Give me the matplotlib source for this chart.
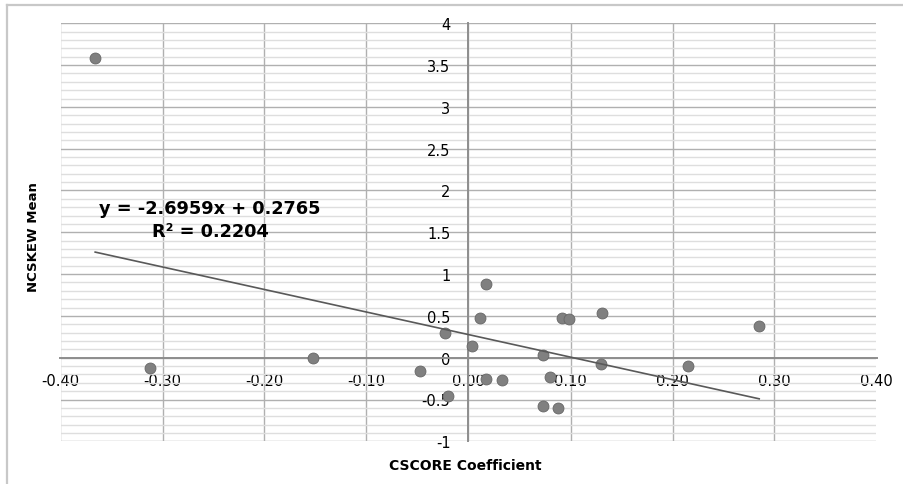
import matplotlib
matplotlib.use("Agg")
import matplotlib.pyplot as plt
from matplotlib.ticker import MultipleLocator
from matplotlib.lines import Line2D
import numpy as np

plt.rcParams['font.family'] = ['DejaVu Sans']
plt.rcParams['axes.unicode_minus'] = False

# ---- data ----
cscore = [-0.366, -0.312, -0.152, -0.048, -0.023, -0.020, 0.003, 0.011, 0.017,
          0.017, 0.033, 0.073, 0.073, 0.080, 0.088, 0.092, 0.099, 0.130, 0.131,
          0.215, 0.285]
ncskew = [3.59, -0.12, 0.00, -0.16, 0.29, -0.46, 0.14, 0.48, 0.88,
          -0.25, -0.27, 0.03, -0.58, -0.23, -0.60, 0.47, 0.46, -0.08, 0.53,
          -0.10, 0.38]
trend_slope = -2.6959
trend_intercept = 0.2765
r_squared = 0.2204

xticks = [-0.4, -0.3, -0.2, -0.1, 0.0, 0.1, 0.2, 0.3, 0.4]
xtick_labels = ["-0.40", "-0.30", "-0.20", "-0.10", "0.00", "0.10", "0.20", "0.30", "0.40"]
yticks = [-1, -0.5, 0, 0.5, 1, 1.5, 2, 2.5, 3, 3.5, 4]
ytick_labels = ["-1", "-0.5", "0", "0.5", "1", "1.5", "2", "2.5", "3", "3.5", "4"]
x_title = "CSCORE Coefficient"
y_title = "NCSKEW Mean"

# ---- figure ----
fig = plt.figure(figsize=(9.04, 4.85), dpi=100)
ax = fig.add_axes([60.5 / 904, 1 - 442.3 / 485, 816 / 904, 418 / 485])
ax.set_xlim(-0.4, 0.4)
ax.set_ylim(-1, 4)

ax.set_xticks(xticks)
ax.set_xticklabels(xtick_labels)
ax.set_yticks(yticks)
ax.set_yticklabels(ytick_labels)
ax.yaxis.set_minor_locator(MultipleLocator(0.1))
ax.tick_params(which='both', length=0, labelsize=10.5, colors='#000000')
ax.tick_params(axis='x', pad=11)
ax.tick_params(axis='y', pad=13)

ax.set_axisbelow(True)
ax.grid(which='major', color='#b0b0b0', lw=1.0)
ax.grid(which='minor', axis='y', color='#dedede', lw=1.0)
for gl in ax.get_xgridlines() + ax.get_ygridlines():
    gl.set_clip_on(False)

for side in ['top', 'right']:
    ax.spines[side].set_visible(False)
ax.spines['left'].set_position(('data', 0))
ax.spines['bottom'].set_position(('data', 0))
for side in ['left', 'bottom']:
    ax.spines[side].set_color('#8e8e8e')
    ax.spines[side].set_linewidth(1.4)

# points
ax.scatter(cscore, ncskew, s=62, color='#808080', edgecolors='#666666',
           linewidths=0.6, zorder=3, clip_on=False)

# linear trend line
xs = np.array([min(cscore), max(cscore)])
ax.plot(xs, trend_slope * xs + trend_intercept, color='#595959', lw=1.2, zorder=4)

eq = "y = {:.4f}x + {:.4f}\nR² = {:.4f}".format(trend_slope, trend_intercept, r_squared)
ax.text(0.1832, 0.5306, eq, transform=ax.transAxes, ha='center', va='center',
        multialignment='center', fontsize=12.8, fontweight='bold', linespacing=1.4,
        color='#000000')

# axis titles
ax.text(0.4963, -0.0567, x_title, transform=ax.transAxes, ha='center', va='center',
        fontsize=10, fontweight='bold', color='#000000')
ax.text(-0.0337, 0.491, y_title, transform=ax.transAxes, ha='center', va='center',
        rotation=90, fontsize=9.5, fontweight='bold', color='#000000')

# outer chart frame (partially visible)
fig.add_artist(Line2D([7 / 904, 1.0], [1 - 6 / 485, 1 - 6 / 485],
                      transform=fig.transFigure, color='#c8c8c8', lw=1.6))
fig.add_artist(Line2D([7 / 904, 7 / 904], [0.0, 1 - 6 / 485],
                      transform=fig.transFigure, color='#c8c8c8', lw=1.6))

fig.savefig("out.png", dpi=100, facecolor='white')
